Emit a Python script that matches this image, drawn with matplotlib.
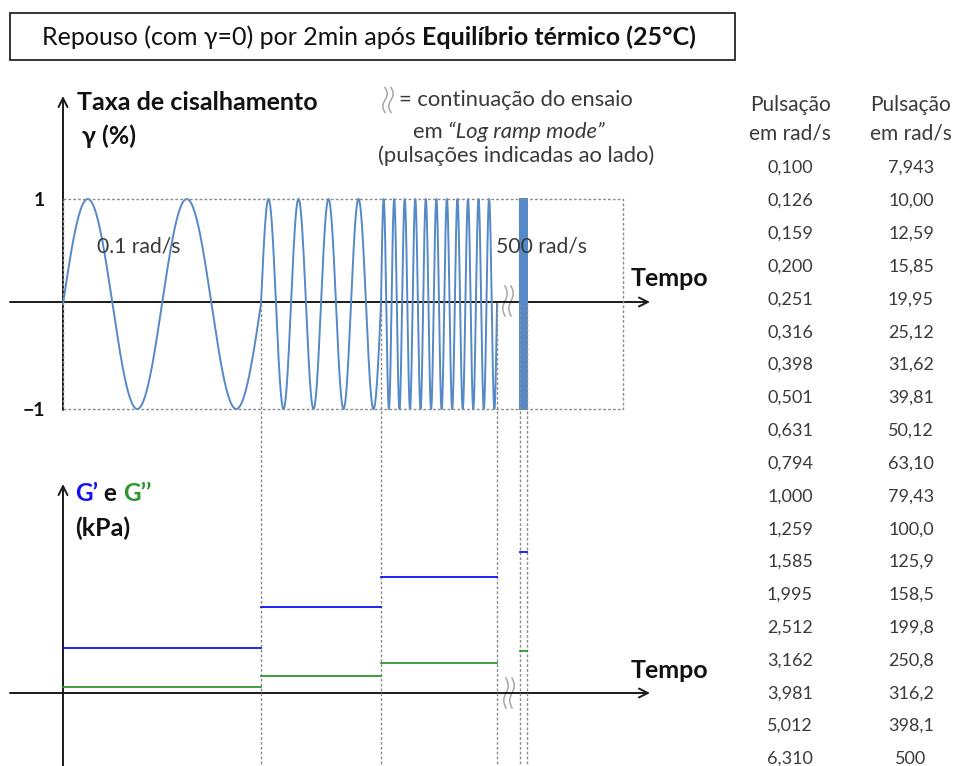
import matplotlib.pyplot as plt
import matplotlib.transforms as mtransforms
from matplotlib.patches import Rectangle
import numpy as np

plt.rcParams['font.family'] = ['Lato', 'DejaVu Sans']

# strain sweep sketch: start, duration (schematic time) and cycles of each block
seg_start = [0, 198, 318, 457]
seg_duration = [198, 120, 116, 7]
seg_cycles = [2, 4, 11, 60]
seg_labels = ['0.1 rad/s', '', '', '500 rad/s']

# moduli plateaus for each block (kPa, schematic)
g_storage = [0.45, 0.86, 1.16, 1.41]
g_loss = [0.06, 0.17, 0.30, 0.42]

# pulsations listed on the right (rad/s)
omega_col1 = ['0,100', '0,126', '0,159', '0,200', '0,251', '0,316', '0,398', '0,501',
              '0,631', '0,794', '1,000', '1,259', '1,585', '1,995', '2,512', '3,162',
              '3,981', '5,012', '6,310']
omega_col2 = ['7,943', '10,00', '12,59', '15,85', '19,95', '25,12', '31,62', '39,81',
              '50,12', '63,10', '79,43', '100,0', '125,9', '158,5', '199,8', '250,8',
              '316,2', '398,1', '500']

W, H = 957, 766
wave_col = '#5589c8'
txt_col = '#3a3a3a'
dot_col = '#8c8c8c'

fig = plt.figure(figsize=(W / 100, H / 100), dpi=100)
ax = fig.add_axes([0, 0, 1, 1])
ax.set_xlim(0, W)
ax.set_ylim(H, 0)
ax.axis('off')

# top panel (strain) and bottom panel (moduli)
axt = fig.add_axes([63 / W, (H - 409) / H, 560 / W, 210 / H])
axt.set_xlim(0, 560)
axt.set_ylim(-1, 1)
axt.axis('off')
axb = fig.add_axes([63 / W, (H - 693) / H, 560 / W, 150 / H])
axb.set_xlim(0, 560)
axb.set_ylim(0, 1.5)
axb.axis('off')
for a in (axt, axb):
    a.patch.set_alpha(0)


def chain(prev, s, **kw):
    # put text s right after the text prev, on the same line
    return ax.annotate(s, xy=(1, 0), xycoords=prev, ha='left', va='bottom', **kw)


def wavy(x0, y0, h):
    # little "continuation" sign
    y = np.linspace(y0 - h / 2, y0 + h / 2, 60)
    for off in (-3, 3):
        x = x0 + off + 2.2 * np.sin(2 * np.pi * (y - y0 + h / 2) / h)
        ax.plot(x, y, color='#a6a6a6', lw=1.1)


# title box
ax.add_patch(Rectangle((10, 13), 725, 47, fill=False, edgecolor='#262626', lw=1.3))
t = ax.text(42, 49, 'Repouso (com γ=0) por 2min após ', fontsize=18, va='bottom', color='#111111')
chain(t, 'Equilíbrio térmico (25°C)', fontsize=18, fontweight='bold', color='#111111')

# sine blocks
for s, d, c in zip(seg_start, seg_duration, seg_cycles):
    tt = np.linspace(s, s + d, 4000)
    axt.plot(tt, np.sin(2 * np.pi * c * (tt - s) / d), color=wave_col, lw=1.4, clip_on=False)
for s, lab in zip(seg_start, seg_labels):
    if lab:
        axt.text(s + 34 if s == 0 else s - 24, 0.55, lab, fontsize=15.2, color=txt_col, va='center')

# dotted frame
axt.plot([0, 560, 560, 0, 0], [1, 1, -1, -1, 1], color=dot_col, lw=1, ls=(0, (2, 1.5)), clip_on=False)

# dotted guides from the strain axis down through the moduli panel
edges = [seg_start[1], seg_start[2], seg_start[2] + seg_duration[2],
         seg_start[3], seg_start[3] + seg_duration[3]]
trans = mtransforms.blended_transform_factory(axt.transData, fig.transFigure)
y0 = fig.transFigure.inverted().transform(axt.transData.transform((0, 0)))[1]
for e in edges:
    axt.plot([e, e], [y0, 0], transform=trans, color=dot_col, lw=1, ls=(0, (2, 1.5)), clip_on=False)

# moduli plateaus
for s, d, gs, gl in zip(seg_start, seg_duration, g_storage, g_loss):
    axb.plot([s, s + d], [gs, gs], color='#1010f0', lw=1.3, clip_on=False)
    axb.plot([s, s + d], [gl, gl], color='#2e962e', lw=1.3, clip_on=False)

# axes with arrows
arr = dict(arrowstyle='->', color='#1a1a1a', lw=1.4, shrinkA=0, shrinkB=0, mutation_scale=16)
ax.annotate('', xy=(650, 302), xytext=(10, 302), arrowprops=arr)
ax.annotate('', xy=(63, 96), xytext=(63, 410), arrowprops=arr)
ax.annotate('', xy=(650, 693), xytext=(10, 693), arrowprops=arr)
ax.annotate('', xy=(63, 484), xytext=(63, 766), arrowprops=arr)

ax.text(45, 200, '1', fontsize=14, fontweight='bold', ha='right', va='center', color='#111111')
ax.text(45, 410, '−1', fontsize=14, fontweight='bold', ha='right', va='center', color='#111111')

bold = dict(fontsize=18, fontweight='bold', va='center', color='#111111')
ax.text(77, 103, 'Taxa de cisalhamento', **bold)
ax.text(82, 136, 'γ (%)', **bold)
ax.text(631, 278, 'Tempo', **bold)
ax.text(631, 671, 'Tempo', **bold)

g1 = ax.text(75, 505, 'G’', fontsize=17.5, fontweight='bold', va='bottom', color='#1010f0')
g2 = chain(g1, ' e ', fontsize=17.5, fontweight='bold', color='#111111')
chain(g2, 'G’’', fontsize=17.5, fontweight='bold', color='#2e962e')
ax.text(75, 528, '(kPa)', **bold)

# continuation marks
wavy(508, 301, 30)
wavy(509, 693, 30)
wavy(388, 100, 25)

ax.text(399, 100, '= continuação do ensaio', fontsize=15.8, va='center', color=txt_col)
e1 = ax.text(413, 142, 'em ', fontsize=15.8, va='bottom', color=txt_col)
chain(e1, '“Log ramp mode”', fontsize=15.8, style='italic', color=txt_col)
ax.text(516, 156, '(pulsações indicadas ao lado)', fontsize=15.8, ha='center', va='center', color=txt_col)

# table of pulsations
for xc in (790, 911):
    ax.text(xc, 105, 'Pulsação', fontsize=15, ha='center', va='center', color=txt_col)
    ax.text(xc, 134, 'em rad/s', fontsize=15, ha='center', va='center', color=txt_col)
for i, (a, b) in enumerate(zip(omega_col1, omega_col2)):
    ax.text(790, 168 + i * 32.83, a, fontsize=13, ha='center', va='center', color=txt_col)
    ax.text(911, 168 + i * 32.83, b, fontsize=13, ha='center', va='center', color=txt_col)

fig.savefig('out.png', dpi=100)
